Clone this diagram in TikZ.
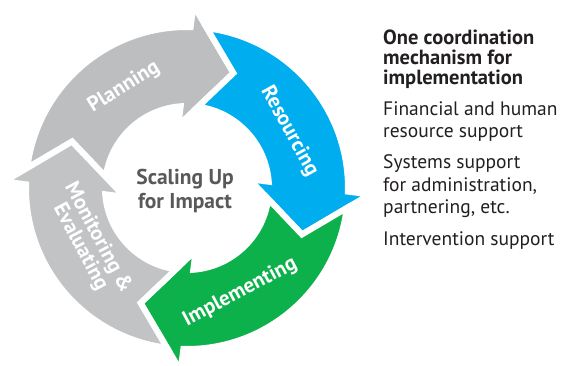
\documentclass[tikz,border=0pt]{standalone}
\usepackage{fontspec}
\setmainfont{PT Sans}
\usetikzlibrary{positioning}
\definecolor{planGray}{HTML}{BCBEC0}
\definecolor{monGray}{HTML}{C2C3C5}
\definecolor{resBlue}{HTML}{00AEEF}
\definecolor{impGreen}{HTML}{0DB14B}
\definecolor{hubGray}{HTML}{58595B}
\definecolor{noteBlack}{HTML}{231F20}
\begin{document}
\begin{tikzpicture}[x=1pt,y=1pt,
    cyclelabel/.style={text=white,font=\fontsize{21}{20}\selectfont\bfseries,align=center},
    note/.style={text=noteBlack,font=\fontsize{19.5}{22.5}\selectfont,align=left,inner sep=0pt}]
    \useasboundingbox (-187,-177) rectangle (375,188);

    % flechas del ciclo
    \foreach \t/\c in {68/planGray,-22/resBlue,-112/impGreen,158/monGray}{
      \filldraw[fill=\c,draw=white,line width=6pt,line join=miter]
        ({\t+104.85}:161) arc[start angle={\t+104.85},end angle={\t+20.7},radius=161]
        -- ({\t+20}:183) -- (\t:124) -- ({\t+30}:63) -- ({\t+26.4}:82)
        arc[start angle={\t+26.4},end angle={\t+104.26},radius=82]
        -- ({\t+90}:124) -- cycle;
    }

    % textos de las flechas
    \node[cyclelabel,rotate=32] (plan) at (122:119) {Planning};
    \node[cyclelabel,rotate=-61] (res) at (29:117) {Resourcing};
    \node[cyclelabel,rotate=28] (imp) at (-63:117) {Implementing};
    \node[cyclelabel,rotate=-62] (mon) at (209:112) {Monitoring \&\\Evaluating};

    % centro
    \node[text=hubGray,font=\fontsize{21.5}{24}\selectfont\bfseries,align=center] (hub) at (-2,-3) {Scaling Up\\for Impact};

    % notas a la derecha
    \node[note,anchor=north west,font=\fontsize{20.5}{20}\selectfont\bfseries] (coord) at (196,158)
      {One coordination\\mechanism for\\implementation};
    \node[note,below=12pt of coord.south west,anchor=north west] (finance)
      {Financial and human\\resource support};
    \node[note,below=13pt of finance.south west,anchor=north west] (systems)
      {Systems support\\for administration,\\partnering, etc.};
    \node[note,below=13pt of systems.south west,anchor=north west] (interv)
      {Intervention support};
\end{tikzpicture}
\end{document}
